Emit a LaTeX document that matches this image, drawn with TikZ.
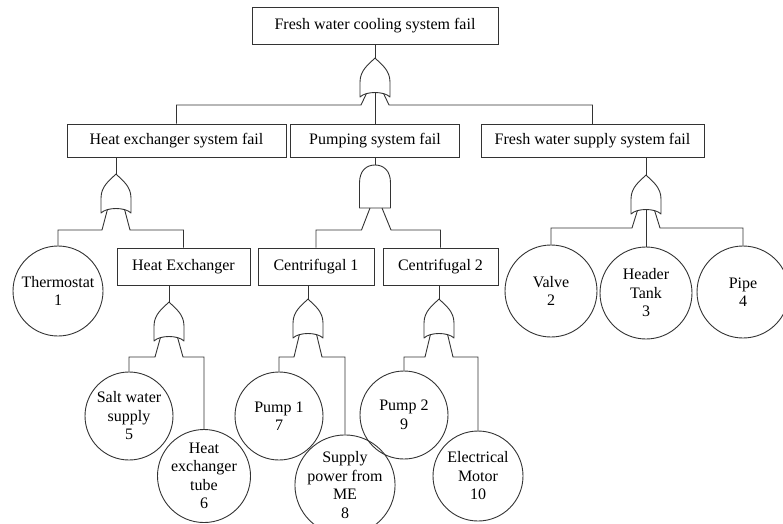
\documentclass[tikz,border=0pt]{standalone}
\usepackage{fontspec}
\setmainfont{Liberation Serif}
\tikzset{
  ln/.style={draw=black!80, line width=0.9pt},
  box/.style={ln, rectangle, inner sep=0pt, font=\fontsize{16}{18.5}\selectfont},
  event/.style={ln, circle, inner sep=0pt, minimum size=#1, align=center, font=\fontsize{16}{18.5}\selectfont},
  event/.default=92pt,
  orgate/.pic={
    \draw[ln, line join=round] (0,0) .. controls (-6,6) and (-15,12) .. (-15,24) -- (-15,39)
       .. controls (-9,33) and (9,33) .. (15,39) -- (15,24) .. controls (15,12) and (6,6) .. (0,0);
    \coordinate (-in) at (0,0);
    \coordinate (-l) at (-8.6,35.6);
    \coordinate (-r) at (8.6,35.6);
    \coordinate (-c) at (0,34.5);
    \coordinate (-lx) at (-14,0);
    \coordinate (-rx) at (14,0);
  },
  andgate/.pic={
    \draw[ln, line join=round] (-15.5,43) -- (-15.5,18) .. controls (-15.5,5) and (-8,0) .. (0,0)
       .. controls (8,0) and (15.5,5) .. (15.5,18) -- (15.5,43) -- cycle;
    \coordinate (-in) at (0,0);
    \coordinate (-l) at (-5,43);
    \coordinate (-r) at (7,43);
    \coordinate (-lx) at (-13.5,0);
    \coordinate (-rx) at (16,0);
  }
}
\begin{document}
\begin{tikzpicture}[x=1pt, y=-1pt]
\useasboundingbox (0,0) rectangle (783,523);
\clip (0,0) rectangle (783,523);

% boxes
\node[box, minimum width=246pt, minimum height=37pt] (top) at (375,25.5) {Fresh water cooling system fail};
\node[box, minimum width=219pt, minimum height=33pt] (hesf) at (176.5,140.5) {Heat exchanger system fail};
\node[box, minimum width=169pt, minimum height=33pt] (psf) at (375,140.5) {Pumping system fail};
\node[box, minimum width=223pt, minimum height=33pt] (fwssf) at (592.5,141) {Fresh water supply system fail};
\node[box, minimum width=133pt, minimum height=37pt] (hex) at (183.5,266.5) {Heat Exchanger};
\node[box, minimum width=116pt, minimum height=37pt] (c1) at (316,266.5) {Centrifugal 1};
\node[box, minimum width=115pt, minimum height=37pt] (c2) at (440.5,266.5) {Centrifugal 2};

% basic events
\node[event=90pt] (thermo) at (58,291) {Thermostat\\1};
\node[event=88pt] (salt) at (129,416) {Salt water\\supply\\5};
\node[event=88pt] (tube) at (204,476) {Heat\\exchanger\\tube\\6};
\node[event=88pt] (pump1) at (279,416) {Pump 1\\7};
\node[event=90pt] (supply) at (345,485) {Supply\\power from\\ME\\8};
\node[event=88pt] (pump2) at (404,415) {Pump 2\\9};
\node[event=90pt] (motor) at (478,476) {Electrical\\Motor\\10};
\node[event=92pt] (valve) at (551,291) {Valve\\2};
\node[event=92pt] (header) at (646,293) {Header\\Tank\\3};
\node[event=92pt] (pipe) at (743,292) {Pipe\\4};

% gates
\pic (g1) at (375,58) {orgate};
\pic (g2) at (116,174) {orgate};
\pic (g3) at (169,302) {orgate};
\pic (ga) at (375,165) {andgate};
\pic (g4) at (308,299) {orgate};
\pic (g5) at (439,299) {orgate};
\pic (g6) at (646,175) {orgate};

% horizontal levels
\coordinate (h1) at (0,105);
\coordinate (h2) at (0,230);
\coordinate (h3) at (0,357);
\coordinate (ha) at (0,230);
\coordinate (h6) at (0,228);

% connectors
\draw[ln] (top.south) -- (g1-in);
\draw[ln] (g1-l) -- (g1-lx |- h1) -| (hesf.north);
\draw[ln] (g1-c) -- (psf.north);
\draw[ln] (g1-r) -- (g1-rx |- h1) -| (fwssf.north);

\draw[ln] (hesf.south -| g2-in) -- (g2-in);
\draw[ln] (g2-l) -- (g2-lx |- h2) -| (thermo.north);
\draw[ln] (g2-r) -- (g2-rx |- h2) -| (hex.north);

\draw[ln] (hex.south -| g3-in) -- (g3-in);
\draw[ln] (g3-l) -- (g3-lx |- h3) -| (salt.north);
\draw[ln] (g3-r) -- (g3-rx |- h3) -| (tube.north);

\draw[ln] (psf.south -| ga-in) -- (ga-in);
\draw[ln] (ga-l) -- (ga-lx |- ha) -| (c1.north);
\draw[ln] (ga-r) -- (ga-rx |- ha) -| (c2.north);

\draw[ln] (c1.south -| g4-in) -- (g4-in);
\draw[ln] (g4-l) -- (g4-lx |- h3) -| (pump1.north);
\draw[ln] (g4-r) -- (g4-rx |- h3) -| (supply.north);

\draw[ln] (c2.south -| g5-in) -- (g5-in);
\draw[ln] (g5-l) -- (g5-lx |- h3) -| (pump2.north);
\draw[ln] (g5-r) -- (g5-rx |- h3) -| (motor.north);

\draw[ln] (fwssf.south -| g6-in) -- (g6-in);
\draw[ln] (g6-l) -- (g6-lx |- h6) -| (valve.north);
\draw[ln] (g6-c) -- (header.north);
\draw[ln] (g6-r) -- (g6-rx |- h6) -| (pipe.north);
\end{tikzpicture}
\end{document}
